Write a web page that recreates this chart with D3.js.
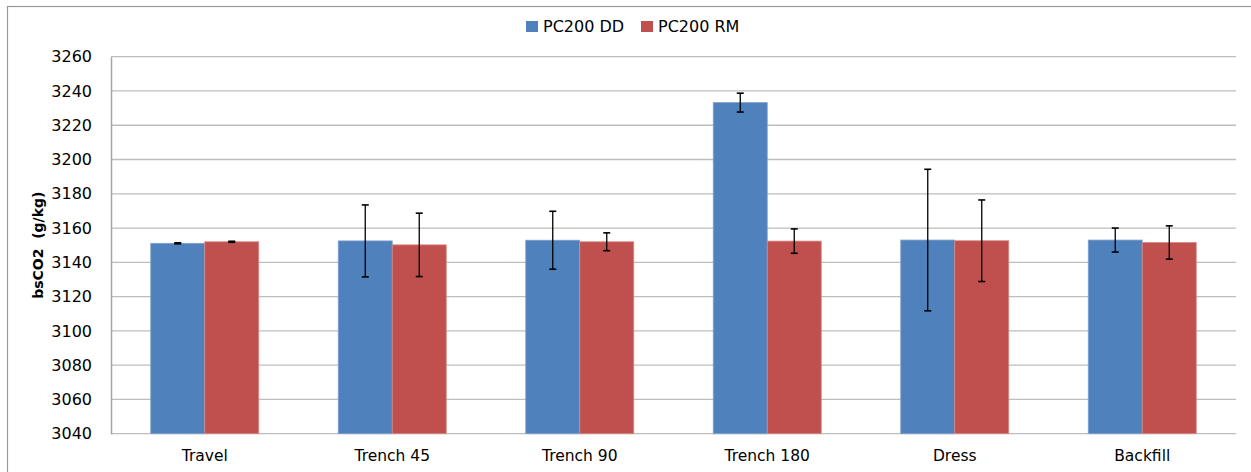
<!DOCTYPE html>
<html><head><meta charset="utf-8">
<script src="https://cdn.jsdelivr.net/npm/d3@7/dist/d3.min.js"></script>
<style>body{margin:0;background:#fff}svg{display:block}</style>
</head><body><svg id="c" width="1251" height="472"></svg>
<script>
const categories = ["Travel","Trench 45","Trench 90","Trench 180","Dress","Backfill"];
const seriesNames = ["PC200 DD","PC200 RM"];
const ddValues = [3151.1, 3152.5, 3152.9, 3233.2, 3153.0, 3153.0];
const rmValues = [3152.0, 3150.2, 3152.0, 3152.4, 3152.6, 3151.6];
const ddErrors = [0.3, 21.0, 16.9, 5.5, 41.3, 7.0];
const rmErrors = [0.3, 18.5, 5.2, 7.1, 23.8, 9.7];
const yTicks = [3040,3060,3080,3100,3120,3140,3160,3180,3200,3220,3240,3260];
const colors = ["#4F81BD","#C0504D"];

const svg = d3.select("#c");
const font = "DejaVu Sans, sans-serif";
const L = 111, R = 1236, T = 56.7, B = 433.7;

svg.append("rect").attr("x",7.5).attr("y",6.5).attr("width",1251).attr("height",472)
  .attr("fill","none").attr("stroke","#9a9a9a").attr("stroke-width",1.2);

const x0 = d3.scaleBand().domain(categories).range([L,R]).paddingInner(0.424).paddingOuter(0.212);
const x1 = d3.scaleBand().domain(seriesNames).range([0,x0.bandwidth()]);
const y = d3.scaleLinear().domain([3040,3260]).range([B,T]);

// gridlines
svg.append("g").selectAll("line").data(yTicks).join("line")
  .attr("x1",L).attr("x2",R).attr("y1",d=>y(d)).attr("y2",d=>y(d))
  .attr("stroke","#bdbdbd").attr("stroke-width",1.3);

// y axis
const ya = svg.append("g").attr("transform",`translate(${L},0)`)
  .call(d3.axisLeft(y).tickValues(yTicks).tickSize(0).tickPadding(19).tickFormat(d3.format("d")));
ya.select(".domain").attr("stroke","#a6a6a6").attr("stroke-width",1.5);
ya.selectAll("text").attr("font-family",font).attr("font-size",16).attr("fill","#000");

// bars
const data = categories.map((c,i)=>({c, vals:[
  {s:seriesNames[0], v:ddValues[i], e:ddErrors[i], k:0},
  {s:seriesNames[1], v:rmValues[i], e:rmErrors[i], k:1}]}));
const g = svg.append("g").selectAll("g").data(data).join("g")
  .attr("transform",d=>`translate(${x0(d.c)},0)`);
g.selectAll("rect").data(d=>d.vals).join("rect")
  .attr("x",d=>x1(d.s)).attr("width",x1.bandwidth())
  .attr("y",d=>y(d.v)).attr("height",d=>y(3040)-y(d.v))
  .attr("fill",d=>colors[d.k])
  .attr("stroke",d=>d.k===0?"#7ea1cf":"#d68a88").attr("stroke-width",0.8);

// error bars
const eb = g.selectAll("g.eb").data(d=>d.vals).join("g").attr("class","eb");
eb.append("line").attr("x1",d=>x1(d.s)+x1.bandwidth()/2).attr("x2",d=>x1(d.s)+x1.bandwidth()/2)
  .attr("y1",d=>y(d.v+d.e)).attr("y2",d=>y(d.v-d.e)).attr("stroke","#000").attr("stroke-width",1.3);
[1,-1].forEach(sg=>{
  eb.append("line").attr("x1",d=>x1(d.s)+x1.bandwidth()/2-3.5).attr("x2",d=>x1(d.s)+x1.bandwidth()/2+3.5)
    .attr("y1",d=>y(d.v+sg*d.e)).attr("y2",d=>y(d.v+sg*d.e)).attr("stroke","#000").attr("stroke-width",1.6);
});

// x axis labels
svg.append("g").selectAll("text").data(categories).join("text")
  .attr("x",d=>x0(d)+x0.bandwidth()/2).attr("y",461)
  .attr("text-anchor","middle").attr("font-family",font).attr("font-size",15.5).attr("fill","#000")
  .text(d=>d);

// y title
svg.append("text").attr("transform",`translate(43,${(T+B)/2}) rotate(-90)`)
  .attr("text-anchor","middle").attr("font-family",font).attr("font-size",14).attr("font-weight","bold")
  .attr("xml:space","preserve").style("white-space","pre").text("bsCO2  (g/kg)");

// legend
const lg = svg.append("g");
const legX = [526, 641];
seriesNames.forEach((s,i)=>{
  lg.append("rect").attr("x",legX[i]).attr("y",21).attr("width",12).attr("height",11).attr("fill",colors[i]);
  lg.append("text").attr("x",legX[i]+17).attr("y",32).attr("font-family",font).attr("font-size",16)
    .attr("fill","#000").text(s);
});
</script></body></html>
